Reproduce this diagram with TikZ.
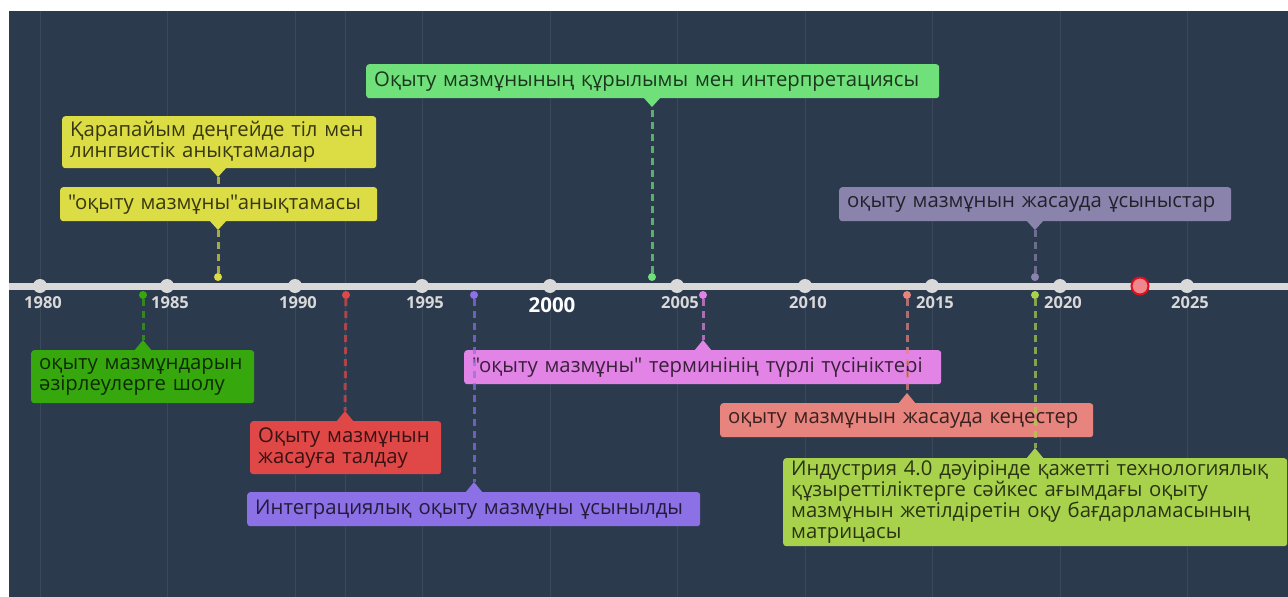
\documentclass[tikz,border=0pt]{standalone}
\usepackage{fontspec}
\setmainfont{Open Sans}[Ligatures=TeXOff]
\usepackage{tikz}

\definecolor{bgNavy}{HTML}{2C3A4E}
\definecolor{gridNavy}{HTML}{3A4859}
\definecolor{axisGray}{HTML}{D9D9D9}
\definecolor{cGreen}{HTML}{36A80E}
\definecolor{cYellow}{HTML}{DCDC44}
\definecolor{cLime}{HTML}{6FE07A}
\definecolor{cRed}{HTML}{E04848}
\definecolor{cPurple}{HTML}{8B70E6}
\definecolor{cPink}{HTML}{E283E6}
\definecolor{cSalmon}{HTML}{E8847E}
\definecolor{cSlate}{HTML}{8A84AD}
\definecolor{cOlive}{HTML}{A8D24C}
\definecolor{nowRed}{HTML}{E0101E}

\tikzset{
  event/.style={anchor=north west, rounded corners=3pt, inner xsep=8pt, inner ysep=0pt,
    align=left, text=black, text opacity=.75, font=\fontsize{20.3}{21}\selectfont},
  tickdot/.style={circle, fill=axisGray, minimum size=14pt, inner sep=0pt},
  yearlbl/.style={anchor=north, text=axisGray, inner sep=0pt, font=\bfseries\fontsize{16.5}{16.5}\selectfont},
  evdot/.style={circle, minimum size=8pt, inner sep=0pt},
  link/.style={dash pattern=on 7pt off 5pt, line width=3pt, draw opacity=.7},
  gridline/.style={gridNavy, line width=1pt}
}

\begin{document}
\begin{tikzpicture}
	\begin{scope}[x=1pt,y=-1pt]
		\useasboundingbox (0,0) rectangle (1288,597);
		\fill[white] (0,0) rectangle (1288,597);
		\fill[bgNavy] (9,11) rectangle (1288,597);

		% faint year lines
		\draw[gridline] (40,11) -- (40,597);
		\draw[gridline] (167,11) -- (167,597);
		\draw[gridline] (295,11) -- (295,597);
		\draw[gridline] (345,11) -- (345,597);
		\draw[gridline] (422,11) -- (422,597);
		\draw[gridline] (550,11) -- (550,597);
		\draw[gridline] (677,11) -- (677,597);
		\draw[gridline] (805,11) -- (805,597);
		\draw[gridline] (932,11) -- (932,597);
		\draw[gridline] (1060,11) -- (1060,597);
		\draw[gridline] (1187,11) -- (1187,597);

		% axis
		\draw[axisGray, line width=7pt] (9,286) -- (1288,286);

		\node[tickdot] at (40,286) (y80) {};
		\node[tickdot] at (167,286) (y85) {};
		\node[tickdot] at (295,286) (y90) {};
		\node[tickdot] at (422,286) (y95) {};
		\node[tickdot] at (550,286) (y00) {};
		\node[tickdot] at (677,286) (y05) {};
		\node[tickdot] at (805,286) (y10) {};
		\node[tickdot] at (932,286) (y15) {};
		\node[tickdot] at (1060,286) (y20) {};
		\node[tickdot] at (1187,286) (y25) {};
		\node[circle, fill=nowRed!50, draw=nowRed, line width=2pt, minimum size=17pt, inner sep=0pt] at (1140,286) (now) {};

		\node[yearlbl] at (43,296) (l80) {1980};
		\node[yearlbl] at (170,296) (l85) {1985};
		\node[yearlbl] at (298,296) (l90) {1990};
		\node[yearlbl] at (425,296) (l95) {1995};
		\node[yearlbl, text=white, font=\bfseries\fontsize{20.5}{20.5}\selectfont] at (552,297) (l00) {2000};
		\node[yearlbl] at (680,296) (l05) {2005};
		\node[yearlbl] at (808,296) (l10) {2010};
		\node[yearlbl] at (935,296) (l15) {2015};
		\node[yearlbl] at (1063,296) (l20) {2020};
		\node[yearlbl] at (1190,296) (l25) {2025};

		% boxes above the axis
		\node[event, fill=cYellow, text width=298pt, minimum height=52pt] at (62,116) (b87a) {Қарапайым деңгейде тіл мен\\лингвистік анықтамалар};
		\fill[cYellow] (209,167) -- (218,177) -- (227,167) -- cycle;
		\coordinate (t87a) at (218,177);

		\node[event, fill=cYellow, text width=301pt, minimum height=34pt] at (60,187) (b87b) {"оқыту мазмұны"анықтамасы};
		\fill[cYellow] (209,220) -- (218,230) -- (227,220) -- cycle;
		\coordinate (t87b) at (218,230);

		\node[event, fill=cLime, text width=557pt, minimum height=34pt] at (366,64) (b04) {Оқыту мазмұнының құрылымы мен интерпретациясы};
		\fill[cLime] (643,97) -- (652,107) -- (661,97) -- cycle;
		\coordinate (t04) at (652,107);

		\node[event, fill=cSlate, text width=376pt, minimum height=34pt] at (839,187) (b19a) {оқыту мазмұнын жасауда ұсыныстар};
		\fill[cSlate] (1026,220) -- (1035,230) -- (1044,220) -- cycle;
		\coordinate (t19a) at (1035,230);

		% boxes below the axis
		\node[event, fill=cGreen, text width=207pt, minimum height=53pt] at (31,350) (b84) {оқыту мазмұндарын\\әзірлеулерге шолу};
		\fill[cGreen] (134,351) -- (143,340) -- (152,351) -- cycle;
		\coordinate (t84) at (143,340);

		\node[event, fill=cPink, text width=461pt, minimum height=34pt] at (464,350) (b06) {"оқыту мазмұны" терминінің түрлі түсініктері};
		\fill[cPink] (694,351) -- (703,340) -- (712,351) -- cycle;
		\coordinate (t06) at (703,340);

		\node[event, fill=cSalmon, text width=357pt, minimum height=34pt] at (720,403) (b14) {оқыту мазмұнын жасауда кеңестер};
		\fill[cSalmon] (898,404) -- (907,393) -- (916,404) -- cycle;
		\coordinate (t14) at (907,393);

		\node[event, fill=cRed, text width=175pt, minimum height=53pt] at (250,421) (b92) {Оқыту мазмұнын\\жасауға талдау};
		\fill[cRed] (336,422) -- (345,411) -- (354,422) -- cycle;
		\coordinate (t92) at (345,411);

		\node[event, fill=cOlive, text width=488pt, minimum height=88pt] at (783,458) (b19b) {Индустрия 4.0 дәуірінде қажетті технологиялық\\құзыреттіліктерге сәйкес ағымдағы оқыту\\мазмұнын жетілдіретін оқу бағдарламасының\\матрицасы};
		\fill[cOlive] (1026,459) -- (1035,448) -- (1044,459) -- cycle;
		\coordinate (t19b) at (1035,448);

		\node[event, fill=cPurple, text width=437pt, minimum height=34pt] at (247,492) (b97) {Интеграциялық оқыту мазмұны ұсынылды};
		\fill[cPurple] (465,493) -- (474,482) -- (483,493) -- cycle;
		\coordinate (t97) at (474,482);

		% event dots
		\node[evdot, fill=cYellow] at (218,277) (d87) {};
		\node[evdot, fill=cLime] at (652,277) (d04) {};
		\node[evdot, fill=cSlate] at (1035,277) (d19a) {};
		\node[evdot, fill=cGreen] at (143,295) (d84) {};
		\node[evdot, fill=cRed] at (346,295) (d92) {};
		\node[evdot, fill=cPurple] at (474,295) (d97) {};
		\node[evdot, fill=cPink] at (703,295) (d06) {};
		\node[evdot, fill=cSalmon] at (907,295) (d14) {};
		\node[evdot, fill=cOlive] at (1035,295) (d19b) {};

		% dashed links
		\draw[link, cYellow] (d87) -- (t87b);
		\draw[link, cYellow] (t87a) -- (b87b.north -| t87a);
		\draw[link, cLime] (d04) -- (t04);
		\draw[link, cSlate] (d19a) -- (t19a);
		\draw[link, cGreen] (d84) -- (t84);
		\draw[link, cRed] (d92) -- (t92);
		\draw[link, cPurple] (d97) -- (t97);
		\draw[link, cPink] (d06) -- (t06);
		\draw[link, cSalmon] (d14) -- (t14);
		\draw[link, cOlive] (d19b) -- (t19b);
	\end{scope}
\end{tikzpicture}
\end{document}
